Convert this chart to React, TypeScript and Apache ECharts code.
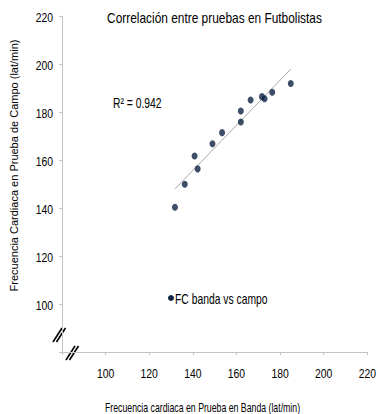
import React, { useEffect, useRef } from "react";
import * as echarts from "echarts";

// Heart rate: treadmill test (band) vs field test, lat/min
const bandaHR = [131.8, 136.3, 140.8, 142.2, 149.0, 153.4, 162.0, 162.0, 166.5, 171.7, 172.9, 176.4, 184.9];
const campoHR = [140.3, 149.9, 161.7, 156.3, 166.8, 171.4, 175.8, 180.4, 185.0, 186.4, 185.5, 188.2, 191.9];
const xTickLabels = [100, 120, 140, 160, 180, 200, 220];
const yTickLabels = [100, 120, 140, 160, 180, 200, 220];
const r2Label = "R² = 0.942";
const seriesName = "FC banda vs campo";
const title = "Correlación entre pruebas en Futbolistas";
const xName = "Frecuencia cardiaca en Prueba en Banda (lat/min)";
const yName = "Frecuencia Cardiaca en Prueba de Campo (lat/min)";

// least-squares fit for the trend line
function linearFit(xs: number[], ys: number[]) {
  const n = xs.length;
  const mx = xs.reduce((a, b) => a + b, 0) / n;
  const my = ys.reduce((a, b) => a + b, 0) / n;
  let sxy = 0;
  let sxx = 0;
  for (let i = 0; i < n; i++) {
    sxy += (xs[i] - mx) * (ys[i] - my);
    sxx += (xs[i] - mx) * (xs[i] - mx);
  }
  const slope = sxy / sxx;
  return { slope, intercept: my - slope * mx };
}

const FONT = "'Liberation Sans', Arial, sans-serif";
const DOT = "#0e2244";
const AXIS = "#c4c4c4";

// condensed text, squeezed horizontally around its anchor
function narrowText(
  x: number,
  y: number,
  text: string,
  size: number,
  squeeze: number,
  align: "left" | "center" | "right" = "left"
) {
  return {
    type: "text",
    x,
    y,
    scaleX: squeeze,
    style: {
      text,
      fontFamily: FONT,
      fontSize: size,
      fill: "#000",
      align,
      verticalAlign: "middle",
    },
  };
}

export default function App() {
  const ref = useRef<HTMLDivElement>(null);

  useEffect(() => {
    if (!ref.current) return;
    const chart = echarts.init(ref.current, undefined, { renderer: "svg" });
    const fit = linearFit(bandaHR, campoHR);
    const x0 = Math.min(...bandaHR);
    const x1 = Math.max(...bandaHR);
    const trend = [
      [x0, fit.slope * x0 + fit.intercept],
      [x1, fit.slope * x1 + fit.intercept],
    ];
    const points = bandaHR.map((x, i) => [x, campoHR[i]]);
    const axisCommon = {
      type: "value" as const,
      min: 80,
      max: 220,
      interval: 20,
      splitLine: { show: false },
      axisLine: { show: true, lineStyle: { color: AXIS, width: 1 } },
      axisTick: { show: true, length: 3, lineStyle: { color: AXIS } },
      axisLabel: { show: false },
    };
    chart.setOption({
      animation: false,
      grid: { left: 62, right: 10.7, top: 16, bottom: 62 },
      xAxis: { ...axisCommon },
      yAxis: { ...axisCommon },
      series: [
        {
          name: seriesName,
          type: "scatter",
          data: points,
          symbol: "circle",
          symbolSize: [6, 7],
          itemStyle: { color: DOT },
          z: 3,
        },
        {
          name: "trend",
          type: "line",
          data: trend,
          symbol: "none",
          lineStyle: { color: "#a8a8a8", width: 1 },
          z: 2,
        },
      ],
    });

    // tick labels placed through the axes' own scales
    const xAxisY = chart.convertToPixel({ yAxisIndex: 0 }, 80) as number;
    const yAxisX = chart.convertToPixel({ xAxisIndex: 0 }, 80) as number;
    const xLabels = xTickLabels.map((v) =>
      narrowText(chart.convertToPixel({ xAxisIndex: 0 }, v) as number, xAxisY + 21, String(v), 13, 0.8, "center")
    );
    const yLabels = yTickLabels.map((v) =>
      narrowText(yAxisX - 9, chart.convertToPixel({ yAxisIndex: 0 }, v) as number + 1, String(v), 13, 0.8, "right")
    );
    const breakStyle = { stroke: "#000", lineWidth: 1.6 };
    chart.setOption({
      graphic: [
        narrowText(214.5, 18, title, 14, 0.85, "center"),
        narrowText(113, 103, r2Label, 14, 0.74, "left"),
        { type: "circle", shape: { cx: 171, cy: 298, r: 3 }, style: { fill: DOT } },
        narrowText(175, 299, seriesName, 14, 0.74, "left"),
        narrowText(202.5, 407, xName, 12.5, 0.7, "center"),
        {
          type: "text",
          x: 14,
          y: 165.5,
          rotation: Math.PI / 2,
          style: {
            text: yName,
            fontFamily: FONT,
            fontSize: 11,
            fill: "#000",
            align: "center",
            verticalAlign: "middle",
          },
        },
        ...xLabels,
        ...yLabels,
        // axis break marks
        { type: "line", shape: { x1: 53, y1: 342, x2: 62, y2: 328 }, style: breakStyle },
        { type: "line", shape: { x1: 56.5, y1: 342, x2: 65.5, y2: 328 }, style: breakStyle },
        { type: "line", shape: { x1: 66, y1: 360, x2: 75, y2: 346 }, style: breakStyle },
        { type: "line", shape: { x1: 69.5, y1: 360, x2: 78.5, y2: 346 }, style: breakStyle },
      ],
    });
    return () => chart.dispose();
  }, []);

  return (
    <div
      ref={ref}
      style={{ position: "absolute", left: 0, top: 0, width: 378, height: 414, background: "#fff" }}
    />
  );
}
